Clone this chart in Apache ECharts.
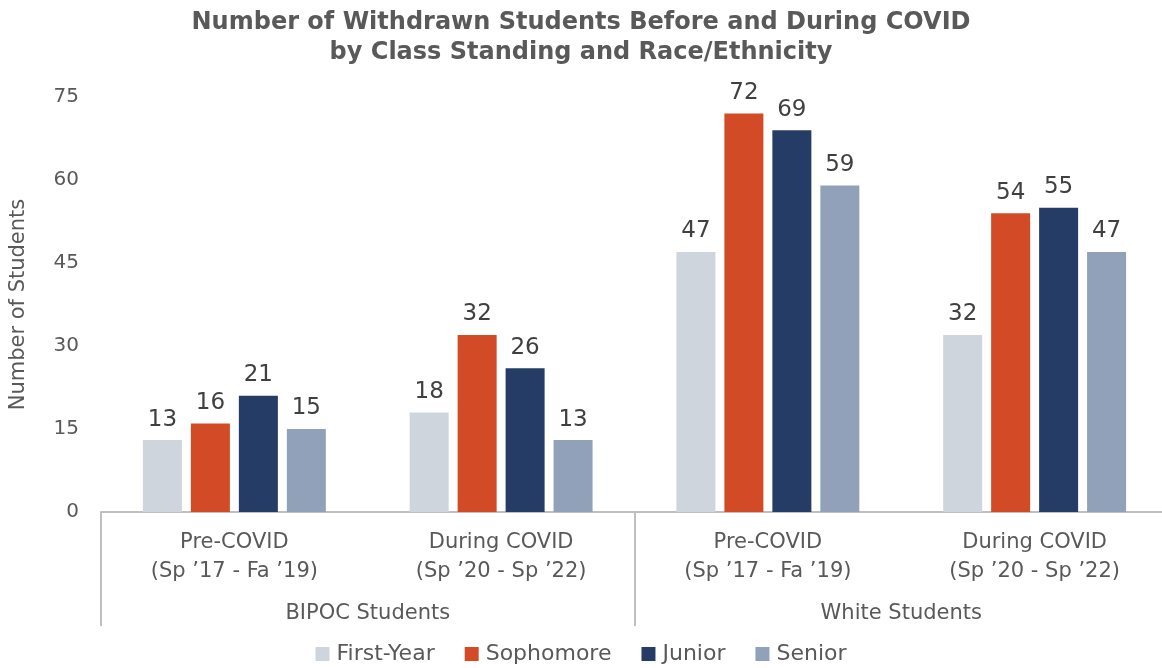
<!DOCTYPE html>
<html>
<head>
<meta charset="utf-8">
<script src="https://cdn.jsdelivr.net/npm/echarts@6/dist/echarts.min.js"></script>
<style>
  html, body { margin: 0; padding: 0; background: #fff; }
  #chart { width: 1162px; height: 668px; }
</style>
</head>
<body>
<div id="chart"></div>
<script>
// Periods within each student group, and the student groups themselves
const periods = [
  'Pre-COVID\n(Sp \u201917 - Fa \u201919)',
  'During COVID\n(Sp \u201920 - Sp \u201922)',
  'Pre-COVID\n(Sp \u201917 - Fa \u201919)',
  'During COVID\n(Sp \u201920 - Sp \u201922)'
];
const groups = ['BIPOC Students', 'White Students'];

// Withdrawn students per class standing
const firstYear = [13, 18, 47, 32];
const sophomore = [16, 32, 72, 54];
const junior = [21, 26, 69, 55];
const senior = [15, 13, 59, 47];

const yTicks = [0, 15, 30, 45, 60, 75];

const FONT = 'DejaVu Sans';
const TEXT = '#595959';

function barSeries(name, data, color) {
  return {
    name: name,
    type: 'bar',
    data: data,
    barWidth: 39,
    barGap: '23%',
    itemStyle: { color: color },
    label: {
      show: true,
      position: 'top',
      distance: 9,
      color: '#404040',
      fontFamily: FONT,
      fontSize: 23
    }
  };
}

const chart = echarts.init(document.getElementById('chart'));
chart.setOption({
  animation: false,
  title: {
    text: 'Number of Withdrawn Students Before and During COVID\nby Class Standing and Race/Ethnicity',
    left: 'center',
    top: 3,
    textStyle: {
      fontFamily: FONT,
      fontWeight: 'bold',
      fontSize: 24,
      lineHeight: 30,
      color: TEXT
    }
  },
  // right edge sits past the canvas so the outer group divider stays hidden
  grid: { left: 101, right: -6, top: 97, bottom: 156, outerBoundsMode: 'none', containLabel: false },
  xAxis: [
    {
      type: 'category',
      data: periods,
      axisLine: { show: true, lineStyle: { color: '#bfbfbf', width: 2 } },
      axisTick: { show: false },
      axisLabel: {
        color: TEXT,
        fontFamily: FONT,
        fontSize: 21,
        lineHeight: 29,
        margin: 16
      }
    },
    {
      type: 'category',
      data: groups,
      position: 'bottom',
      axisLine: { show: false },
      axisTick: { show: true, length: 114, lineStyle: { color: '#bfbfbf', width: 2 } },
      axisLabel: {
        color: TEXT,
        fontFamily: FONT,
        fontSize: 21,
        margin: 91
      }
    }
  ],
  yAxis: {
    type: 'value',
    min: yTicks[0],
    max: yTicks[yTicks.length - 1],
    interval: 15,
    name: 'Number of Students',
    nameLocation: 'middle',
    nameGap: 72,
    nameTextStyle: { color: TEXT, fontFamily: FONT, fontSize: 21 },
    axisLine: { show: false },
    axisTick: { show: false },
    splitLine: { show: false },
    axisLabel: { color: TEXT, fontFamily: FONT, fontSize: 20, margin: 22 }
  },
  legend: {
    bottom: -2,
    left: 'center',
    itemWidth: 14,
    itemHeight: 14,
    itemGap: 30,
    icon: 'rect',
    textStyle: { color: TEXT, fontFamily: FONT, fontSize: 22, padding: [0, 0, 0, 2] }
  },
  series: [
    barSeries('First-Year', firstYear, '#CFD5DD'),
    barSeries('Sophomore', sophomore, '#D34A27'),
    barSeries('Junior', junior, '#253C66'),
    barSeries('Senior', senior, '#91A1BA')
  ]
});
</script>
</body>
</html>
